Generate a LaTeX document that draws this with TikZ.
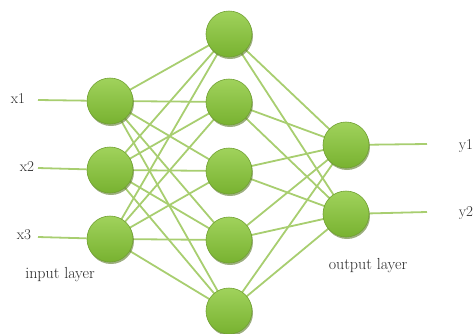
\documentclass[tikz,border=0pt]{standalone}
\usetikzlibrary{shadows}
\definecolor{nodetop}{RGB}{160,210,92}
\definecolor{nodebot}{RGB}{120,178,48}
\definecolor{nodeedge}{RGB}{112,160,50}
\definecolor{edgegreen}{RGB}{168,206,112}
\definecolor{shadowgreen}{RGB}{90,120,40}
\definecolor{labelgray}{RGB}{40,40,40}
\pgfdeclarelayer{bg}
\pgfsetlayers{bg,main}
\tikzset{
  neuron/.style={circle, minimum size=46pt, inner sep=0pt, draw=nodeedge, line width=0.6pt,
    top color=nodetop, bottom color=nodebot,
    drop shadow={shadow xshift=1pt, shadow yshift=-2pt, fill=shadowgreen, opacity=0.6}},
  conn/.style={draw=edgegreen, line width=1.8pt},
  lbl/.style={font=\fontsize{15}{18}\selectfont, text=labelgray, inner sep=0pt},
  layerlbl/.style={font=\fontsize{16}{19}\selectfont, text=labelgray, inner sep=0pt}
}
\begin{document}
\begin{tikzpicture}[x=1pt,y=-1pt]
\useasboundingbox (0,0) rectangle (475,333);
% input layer
\node[neuron] (i1) at (110,101) {};
\node[neuron] (i2) at (110,170) {};
\node[neuron] (i3) at (110,239) {};
% hidden layer
\node[neuron] (h1) at (229,34) {};
\node[neuron] (h2) at (229,102) {};
\node[neuron] (h3) at (229,171) {};
\node[neuron] (h4) at (229,240) {};
\node[neuron] (h5) at (229,311) {};
% output layer
\node[neuron] (o1) at (346,145) {};
\node[neuron] (o2) at (346,214) {};
% free ends
\coordinate (a1) at (38,100);
\coordinate (a2) at (38,168);
\coordinate (a3) at (38,237);
\coordinate (b1) at (427,144);
\coordinate (b2) at (427,212);
% labels
\node[lbl] (lx1) at (18,99) {x1};
\node[lbl] (lx2) at (27,167) {x2};
\node[lbl] (lx3) at (24,235) {x3};
\node[lbl] (ly1) at (466,146) {y1};
\node[lbl] (ly2) at (466,213) {y2};
\node[layerlbl] (lin) at (60,275) {input layer};
\node[layerlbl] (lout) at (368,266) {output layer};
\begin{pgfonlayer}{bg}
\draw[conn] (a1) -- (i1);
\draw[conn] (a2) -- (i2);
\draw[conn] (a3) -- (i3);
\draw[conn] (o1) -- (b1);
\draw[conn] (o2) -- (b2);
\foreach \i in {1,2,3}{
  \foreach \h in {1,...,5}{
    \draw[conn] (i\i.center) -- (h\h.center);
  }
}
\foreach \h in {1,...,5}{
  \foreach \o in {1,2}{
    \draw[conn] (h\h.center) -- (o\o.center);
  }
}
\end{pgfonlayer}
\end{tikzpicture}
\end{document}
